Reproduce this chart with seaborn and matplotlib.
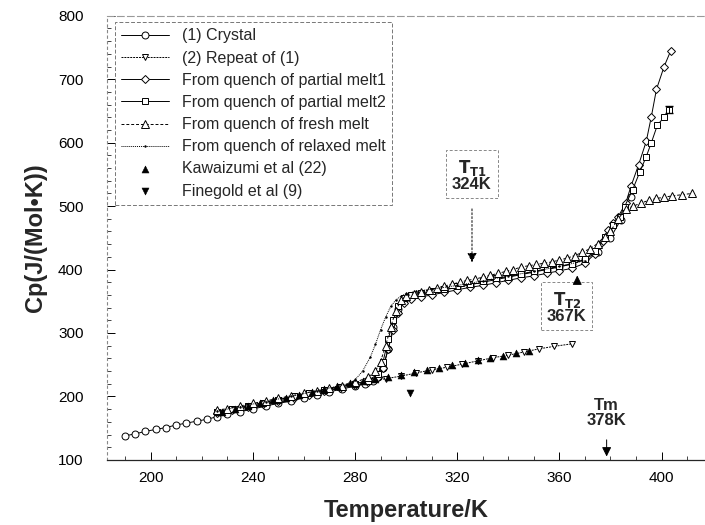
import matplotlib
matplotlib.use("Agg")
import matplotlib.pyplot as plt
import seaborn as sns
import numpy as np
import pandas as pd

# === Data ===
crystal_T = [190, 194, 198, 202, 206, 210, 214, 218, 222, 226, 230, 235, 240, 245, 250,
             255, 260, 265, 270, 275, 280, 284, 287, 289, 291, 293, 295, 297, 299, 302,
             306, 310, 315, 320, 325, 330, 335, 340, 345, 350, 355, 360, 365, 370, 375,
             380, 384, 388]
crystal_cp = [138, 141, 145, 148, 151, 155, 158, 161, 164, 168, 172, 176, 180, 185, 189,
              193, 198, 202, 207, 212, 216, 220, 224, 230, 245, 275, 310, 338, 352, 358,
              361, 364, 368, 372, 376, 380, 384, 388, 392, 396, 400, 404, 409, 416, 428,
              450, 478, 515]

repeat_T = [226, 232, 238, 244, 250, 256, 262, 268, 274, 280, 286, 292, 298, 304, 310,
            316, 322, 328, 334, 340, 346, 352, 358, 365]
repeat_cp = [175, 180, 185, 190, 195, 200, 205, 210, 215, 220, 224, 228, 232, 237, 242,
             246, 251, 256, 261, 265, 270, 275, 279, 283]

melt1_T = [226, 232, 238, 244, 250, 256, 262, 268, 274, 280, 285, 289, 291, 293, 295,
           297, 299, 302, 306, 310, 315, 320, 325, 330, 335, 340, 345, 350, 355, 360,
           365, 370, 374, 377, 379, 381, 383, 386, 388, 391, 394, 396, 398, 401, 403.5]
melt1_cp = [174, 178, 183, 188, 193, 198, 203, 208, 213, 218, 222, 230, 245, 275, 305,
            332, 348, 354, 357, 360, 364, 368, 372, 375, 379, 383, 387, 390, 394, 398,
            402, 410, 425, 445, 463, 473, 483, 505, 531, 565, 602, 641, 684, 720, 744]

melt2_T = [226, 232, 238, 244, 250, 256, 262, 268, 274, 280, 285, 289, 291, 293, 295,
           297, 299, 302, 306, 310, 315, 320, 325, 330, 335, 340, 345, 350, 355, 360,
           365, 370, 374, 378, 381, 383.6, 385.5, 388.7, 391.4, 394, 396, 398.4, 401, 403]
melt2_cp = [176, 180, 185, 190, 195, 200, 205, 210, 215, 220, 225, 235, 255, 290, 320,
            343, 355, 360, 363, 366, 370, 374, 378, 382, 386, 389, 393, 397, 401, 405,
            409, 416, 430, 452, 470, 483, 499, 526, 553, 578, 600, 628, 640, 652]

fresh_T = [226, 230, 235, 240, 245, 250, 255, 260, 265, 270, 275, 280, 285, 288, 290,
           292, 294, 296, 298, 300, 303, 306, 309, 312, 315, 318, 321, 324, 327, 330,
           333, 336, 339, 342, 345, 348, 351, 354, 357, 360, 363, 366, 369, 372, 375,
           378, 380, 383, 386, 389, 392, 395, 398, 401, 404, 408, 412]
fresh_cp = [178, 181, 185, 189, 193, 197, 201, 205, 209, 213, 217, 222, 230, 240, 255,
            280, 310, 335, 352, 358, 362, 365, 368, 371, 374, 377, 380, 383, 385, 388,
            391, 394, 397, 400, 404, 406, 408, 410, 412, 415, 418, 422, 427, 433, 441,
            452, 460, 480, 495, 500, 505, 509, 512, 514, 516, 518, 520]

relaxed_T = [226, 235, 245, 255, 265, 272, 277, 280, 283, 286, 288, 290, 292, 294, 296,
             298, 300, 304, 310, 320, 330, 340, 350, 360, 370]
relaxed_cp = [177, 184, 192, 200, 209, 215, 220, 226, 240, 262, 282, 305, 325, 342, 352,
              358, 362, 366, 369, 375, 382, 390, 397, 405, 414]

kawa_T = [228, 233, 238, 243, 248, 253, 258, 263, 268, 273, 278, 283, 288, 293, 298,
          303, 308, 313, 318, 323, 328, 333, 338, 343, 348]
kawa_cp = [176, 180, 185, 189, 194, 198, 203, 207, 212, 216, 221, 225, 228, 231, 234,
           238, 242, 245, 249, 253, 257, 261, 264, 268, 272]

fine_T = [301.5]
fine_cp = [206]

sns.set_style("ticks")
plt.rcParams['font.family'] = ['Liberation Sans', 'DejaVu Sans']

fig = plt.figure(figsize=(7.05, 5.25), dpi=100)
ax = fig.add_axes([0.152, 0.124, 0.848, 0.846])

common = dict(color="black", linewidth=0.7, markersize=5,
              markerfacecolor="white", markeredgecolor="black",
              markeredgewidth=0.7, sort=False, ax=ax)

sns.lineplot(x=crystal_T, y=crystal_cp, marker="o", linestyle="-",
             label="(1) Crystal", **common)
sns.lineplot(x=repeat_T, y=repeat_cp, marker="v", linestyle=(0, (2, 1)),
             label="(2) Repeat of (1)", **common)
sns.lineplot(x=melt1_T, y=melt1_cp, marker="D", linestyle="-",
             label="From quench of partial melt1",
             **{**common, "markersize": 4.5})
sns.lineplot(x=melt2_T, y=melt2_cp, marker="s", linestyle="-",
             label="From quench of partial melt2", **common)
sns.lineplot(x=fresh_T, y=fresh_cp, marker="^", linestyle=(0, (3, 2)),
             label="From quench of fresh melt", **{**common, "markersize": 6})
sns.lineplot(x=relaxed_T, y=relaxed_cp, marker=".", linestyle=(0, (1, 1)),
             label="From quench of relaxed melt",
             **{**common, "markersize": 2, "markerfacecolor": "black"})
sns.scatterplot(x=kawa_T, y=kawa_cp, marker="^", color="black", s=25,
                edgecolor="black", label="Kawaizumi et al (22)", ax=ax, zorder=5)
sns.scatterplot(x=fine_T, y=fine_cp, marker="v", color="black", s=25,
                edgecolor="black", label="Finegold et al (9)", ax=ax, zorder=5)

# small error bar at the end of partial melt2
ax.errorbar(melt2_T[-1], melt2_cp[-1], yerr=6, color="black", lw=0.7, capsize=3)

ax.set_xlim(183, 417)
ax.set_ylim(100, 800)
ax.set_xticks([200, 240, 280, 320, 360, 400])
ax.set_yticks([100, 200, 300, 400, 500, 600, 700, 800])
ax.set_xticks(np.arange(190, 417, 10), minor=True)
ax.set_yticks(np.arange(100, 801, 20), minor=True)
ax.tick_params(axis="both", which="major", direction="in", length=6, width=0.7,
               labelsize=11, colors="black")
ax.tick_params(axis="both", which="minor", direction="in", length=3, width=0.6)
ax.tick_params(axis="y", which="major", pad=17)
ax.tick_params(axis="x", which="major", pad=8)

ax.set_xlabel("Temperature/K", fontsize=17, fontweight="bold", labelpad=10)
ax.set_ylabel("Cp(J/(Mol•K))", fontsize=17, fontweight="bold", labelpad=8)

ax.spines["right"].set_visible(False)
ax.spines["left"].set_linestyle((0, (2, 3)))
ax.spines["left"].set_color("#888888")
ax.spines["top"].set_linestyle((0, (6, 3)))
ax.spines["top"].set_color("#999999")
ax.spines["bottom"].set_linewidth(0.9)

leg = ax.legend(loc="upper left", bbox_to_anchor=(0.013, 0.986), borderaxespad=0,
                fontsize=11.5, handlelength=3, labelspacing=0.45, fancybox=False,
                edgecolor="#777777", framealpha=1)
leg.get_frame().set_linestyle((0, (4, 2)))
leg.get_frame().set_linewidth(0.7)

box = dict(boxstyle="square,pad=0.35", fc="white", ec="#888888", ls=(0, (3, 2)), lw=0.7)
ax.text(325.8, 549, "$\\mathbf{T_{T1}}$\n324K", ha="center", va="center",
        fontsize=12, fontweight="bold", bbox=box, linespacing=0.95)
ax.annotate("", xy=(325.8, 407), xytext=(325.8, 500),
            arrowprops=dict(arrowstyle="-|>", color="black", lw=0.7, ls=(0, (2, 2)),
                            mutation_scale=14))
ax.text(362.9, 341, "$\\mathbf{T_{T2}}$\n367K", ha="center", va="center",
        fontsize=12, fontweight="bold", bbox=box, linespacing=0.95)
ax.annotate("", xy=(367, 395), xytext=(367, 378),
            arrowprops=dict(arrowstyle="-|>", color="black", lw=0.7,
                            mutation_scale=14))
ax.text(378.5, 174, "Tm\n378K", ha="center", va="center",
        fontsize=12, fontweight="bold", linespacing=0.95)
ax.annotate("", xy=(378.5, 101), xytext=(378.5, 136),
            arrowprops=dict(arrowstyle="-|>", color="black", lw=0.7,
                            mutation_scale=14))

fig.savefig("out.png", dpi=100)
